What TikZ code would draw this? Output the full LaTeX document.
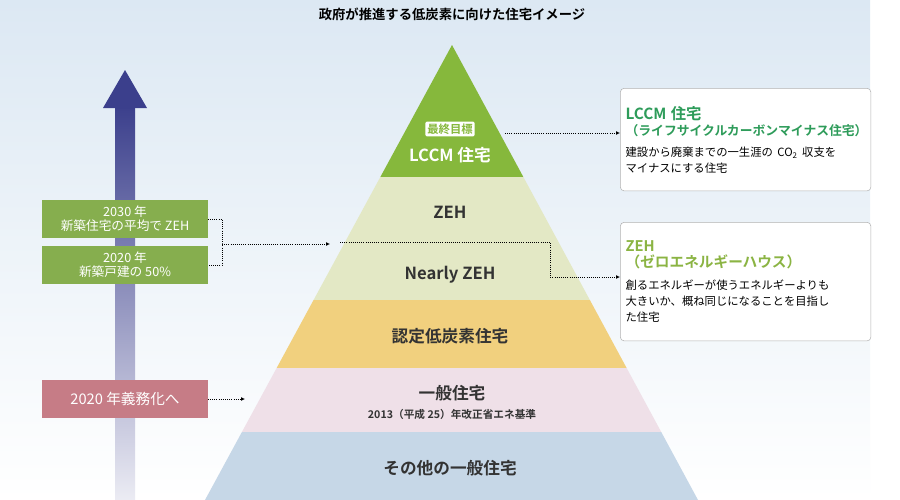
\documentclass[tikz,border=0pt]{standalone}
\usepackage{fontspec}
\setmainfont{Noto Sans CJK JP}
\newfontfamily\jpbold{Noto Sans CJK JP Bold}
\usetikzlibrary{positioning,arrows.meta}
\definecolor{goalgreen}{HTML}{86B83C}
\definecolor{zehband}{HTML}{E3E8C5}
\definecolor{lowband}{HTML}{F1D07E}
\definecolor{stdband}{HTML}{EFE0E8}
\definecolor{otherband}{HTML}{C6D7E7}
\definecolor{boxgreen}{HTML}{86AE4E}
\definecolor{boxpink}{HTML}{C67C86}
\definecolor{headgreen}{HTML}{2E9C5A}
\definecolor{zehgreen}{HTML}{8BB443}
\definecolor{arrowblue}{HTML}{3B3F8C}
\definecolor{skyblue}{HTML}{DCE8F3}
\tikzset{
  bandlabel/.style={font=\jpbold\fontsize{12.5}{14}\selectfont,text=black!80},
  leftbox/.style={fill=boxgreen,text=white,minimum width=124pt,minimum height=28pt,align=center,inner sep=1pt,font=\fontsize{9.5}{10.5}\selectfont},
  infobox/.style={draw=black!30,fill=white,rounded corners=3pt,minimum width=186pt,align=left,text width=180pt,anchor=north west,inner sep=4pt},
  dotline/.style={densely dotted,semithick,-{Latex[length=3pt,width=3pt]}}
}
\begin{document}
\begin{tikzpicture}[x=0.75pt,y=-0.75pt]
\useasboundingbox (0,0) rectangle (900,500);
\fill[white] (0,0) rectangle (900,500);
\shade[top color=skyblue,bottom color=white] (0,0) rectangle (870,500);
% arrow on the left
\shade[top color=arrowblue,bottom color=arrowblue!10] (115,105) rectangle (135,500);
\fill[arrowblue] (103,108) -- (125,70) -- (147,108) -- cycle;
% pyramid
\begin{scope}
  \clip (452,45) -- (698,500) -- (205,500) -- cycle;
  \fill[goalgreen] (0,40) rectangle (900,177);
  \fill[zehband] (0,177) rectangle (900,300);
  \fill[lowband] (0,300) rectangle (900,368);
  \fill[stdband] (0,368) rectangle (900,432);
  \fill[otherband] (0,432) rectangle (900,500);
\end{scope}
\node[font=\jpbold\fontsize{10}{11}\selectfont] (title) at (452,14) {政府が推進する低炭素に向けた住宅イメージ};
\node[fill=white,text=goalgreen,rounded corners=1pt,inner sep=1.5pt,font=\jpbold\fontsize{8.5}{9}\selectfont] (goal) at (450,129) {最終目標};
\node[bandlabel,text=white] (lccm) at (450,155) {LCCM 住宅};
\node[bandlabel] (zeh) at (450,212) {ZEH};
\node[bandlabel] (nzeh) at (450,275) {Nearly ZEH};
\node[bandlabel] (low) at (450,336) {認定低炭素住宅};
\node[bandlabel] (std) at (452,393) {一般住宅};
\node[font=\jpbold\fontsize{8}{9}\selectfont,text=black!80] (stdnote) at (452,414) {2013（平成 25）年改正省エネ基準};
\node[bandlabel] (other) at (450,468) {その他の一般住宅};
% left boxes
\node[leftbox] (y2030) at (125,219) {2030 年\\新築住宅の平均で ZEH};
\node[leftbox] (y2020) at (125,265) {2020 年\\新築戸建の 50\%};
\node[leftbox,fill=boxpink,font=\fontsize{11}{12}\selectfont] (duty) at (125,399) {2020 年義務化へ};
\coordinate (join) at (222,244);
\coordinate (zehin) at (330,244);
\draw[densely dotted,semithick] (y2030.east) -| (join) |- (y2020.east);
\draw[dotline] (join) -- (zehin);
\draw[dotline] (duty.east) -- (245,399);
% right boxes
\node[infobox,minimum height=77pt] (lccmbox) at (620,88) {{\jpbold\fontsize{9.6}{14}\selectfont\color{headgreen}{\fontsize{11.5}{14}\selectfont LCCM 住宅}\\（ライフサイクルカーボンマイナス住宅）}\\[4pt]{\fontsize{8.5}{12}\selectfont 建設から廃棄までの一生涯の CO\textsubscript{2} 収支を\\マイナスにする住宅}};
\node[infobox,minimum height=89pt] (zehbox) at (620,222) {{\jpbold\fontsize{11}{15}\selectfont\color{zehgreen}ZEH\\（ゼロエネルギーハウス）}\\[4pt]{\fontsize{8.5}{12}\selectfont 創るエネルギーが使うエネルギーよりも\\大きいか、概ね同じになることを目指し\\た住宅}};
\coordinate (goalout) at (505,133);
\draw[dotline] (goalout) -- (lccmbox.west |- goalout);
\coordinate (nzehfrom) at (340,242);
\coordinate (nzehturn) at (550,242);
\draw[dotline] (nzehfrom) -- (nzehturn) |- (zehbox.west |- 0,277);
\end{tikzpicture}
\end{document}
